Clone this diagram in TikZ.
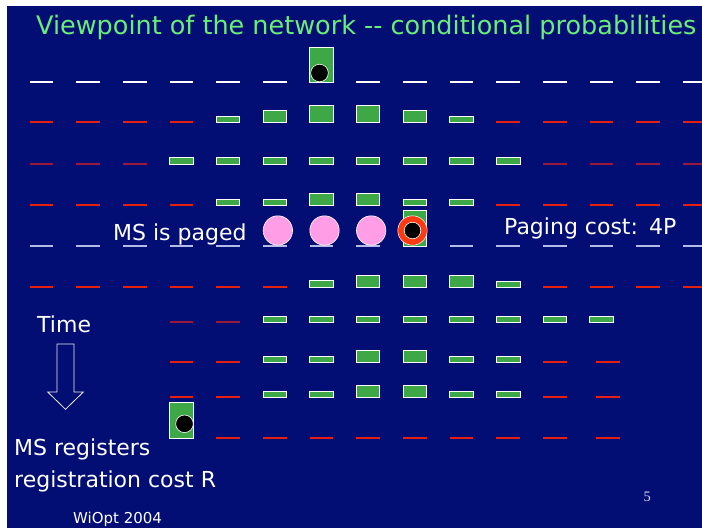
\documentclass[tikz,border=0pt]{standalone}
\usepackage{fontspec}
\setmainfont{DejaVu Sans}
\newfontfamily\pagenumfont{Liberation Serif}
\usepackage{tikz}
\definecolor{SlideNavy}{HTML}{020E73}
\definecolor{BarGreen}{HTML}{3FA846}
\definecolor{TitleGreen}{HTML}{6AEE78}
\definecolor{SlotRed}{HTML}{E5200E}
\definecolor{SlotDark}{HTML}{9A1838}
\definecolor{SlotLav}{HTML}{B4BBE6}
\definecolor{PageMark}{HTML}{FF9EE6}
\definecolor{RingRed}{HTML}{FF3A12}
\definecolor{PageNum}{HTML}{D4DAF0}
\newcommand{\colx}[1]{41.5+46.67*#1}
\newcommand{\slotrow}[3]{\foreach \c in {#3} \draw[slot,#2] ({\colx{\c}-11.75},#1) -- ++(23.5,0);}
\newcommand{\barrow}[2]{\foreach \c/\h in {#2} \draw[probbar] ({\colx{\c}-11.75},#1) rectangle ++(23.5,-\h);}

\begin{document}
\begin{tikzpicture}[x=1pt,y=-1pt,
  slot/.style={line width=1.4pt},
  probbar/.style={fill=BarGreen,draw=white,line width=0.9pt},
  msdot/.style={draw=white,fill=black,line width=0.6pt},
  slidetext/.style={text=white,inner sep=0pt,anchor=base west,font=\fontsize{22}{26}\selectfont}]
  \fill[white] (0,0) rectangle (702,528);
  \fill[SlideNavy] (7,6) rectangle (702,528);
  \useasboundingbox (0,0) rectangle (702,528);
  \node[slidetext,text=TitleGreen,font=\fontsize{25.5}{30}\selectfont] (title) at (36,34.5)
    {Viewpoint of the network -{}- conditional probabilities};
  \slotrow{82}{white}{0,...,5,7,8,...,14}
  \draw[probbar] ({\colx{6}-11.75},82) rectangle ++(23.5,-34.3);
  \draw[msdot] (319.5,73) circle (8.8);
  \slotrow{122}{SlotRed}{0,...,3,10,11,...,14}
  \barrow{122}{4/6,5/12,6/17,7/17,8/12,9/6}
  \slotrow{164}{SlotDark}{0,1,2,11,12,13,14}
  \barrow{164}{3/7,4/7,5/7,6/7,7/7,8/7,9/7,10/7}
  \slotrow{205}{SlotRed}{0,...,3,10,11,...,14}
  \barrow{205}{4/6,5/6,6/12,7/12,8/6,9/6}
  \slotrow{246}{SlotLav}{0,...,7,9,10,...,14}
  \draw[probbar] ({\colx{8}-11.75},246) rectangle ++(23.5,-36);
  \foreach \c in {5,6,7}
    \draw[draw=white,fill=PageMark,line width=0.6pt] ({\colx{\c}+3},230.5) circle (14.7);
  \draw[draw=white,fill=RingRed,line width=0.5pt] (412.5,230.5) circle (14.7);
  \draw[msdot] (412.5,230.5) circle (8.3);
  \slotrow{287}{SlotRed}{0,...,5,11,12,13,14}
  \barrow{287}{6/7,7/12,8/12,9/12,10/6}
  \slotrow{322}{SlotDark}{3,4}
  \barrow{322}{5/6,6/6,7/6,8/6,9/6,10/6,11/6,12/6}
  \slotrow{362}{SlotRed}{3,4,11,12.14}
  \barrow{362}{5/6,6/6,7/12,8/12,9/6,10/6}
  \slotrow{397}{SlotRed}{3,4,11,12.14}
  \barrow{397}{5/6,6/6,7/12,8/12,9/6,10/6}
  \slotrow{438}{SlotRed}{4,...,11,12.14}
  \draw[probbar] ({\colx{3}-11.75},438) rectangle ++(23.5,-35.5);
  \draw[msdot] (184.5,423.8) circle (8.8);
  \node[slidetext] (paged) at (113,240) {MS is paged};
  \node[slidetext] (cost) at (504,234) {Paging cost:\hspace{0.5em}4P};
  \node[slidetext] (time) at (37,332.7) {Time};
  \draw[white!85!gray,line width=0.8pt,fill=SlideNavy]
    (57,344) -- (74,344) -- (74,392) -- (83.3,392) -- (65.5,409.3) -- (47.7,392) -- (57,392) -- cycle;
  \node[slidetext] (registers) at (14,455.7) {MS registers};
  \node[slidetext] (regcost) at (14,487.3) {registration cost R};
  \node[slidetext,font=\fontsize{15}{18}\selectfont] (venue) at (73,523.3) {WiOpt 2004};
  \node[slidetext,text=PageNum,font=\pagenumfont\fontsize{14.5}{17}\selectfont] (pagenum) at (643.5,501.7) {5};
\end{tikzpicture}
\end{document}
